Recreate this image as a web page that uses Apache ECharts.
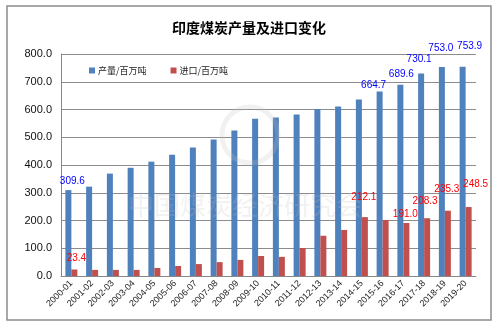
<!DOCTYPE html>
<html><head><meta charset="utf-8">
<script src="https://cdn.jsdelivr.net/npm/echarts@6/dist/echarts.min.js"></script>
<style>html,body{margin:0;padding:0;background:#fff}#c{width:499px;height:328px}</style>
</head><body><div id="c"></div>
<script>
var categories = ['2000-01','2001-02','2002-03','2003-04','2004-05','2005-06','2006-07','2007-08','2008-09','2009-10','2010-11','2011-12','2012-13','2013-14','2014-15','2015-16','2016-17','2017-18','2018-19','2019-20'];
var production = [309.6,322,369,390,412,437,463,492,524,567,571,582,602,611,636,664.7,689.6,730.1,753.0,753.9];
var imports = [23.4,22,22,22,29,36,43,50,58,72,69,101,145,166,212.1,202,191.0,208.3,235.3,248.5];
var yTicks = [0,100,200,300,400,500,600,700,800];
var prodLabelIdx = [0,15,16,17,18,19];
var impLabelIdx = [0,14,16,17,18,19];

// label styling (offsets in px, presentation only)
var prodOffsets = {0:[4,1],15:[-6,4],16:[1,0],17:[-2,-4],18:[-1,-9],19:[7,-11]};
var impOffsets = {0:[2,-1],14:[-1,-10],16:[-1,1],17:[-2,-7],18:[-1,-11],19:[7,-13]};

function build(vals, idx, offs, color){
  return vals.map(function(v,i){
    var item = {value:v};
    if (idx.indexOf(i) >= 0) {
      item.label = {show:true, position:'top', distance:5, offset:offs[i]||[0,0], color:color,
        fontSize:10, fontFamily:'Liberation Sans, Arial, sans-serif',
        formatter:function(p){return p.value.toFixed(1);}};
    }
    return item;
  });
}

var chart = echarts.init(document.getElementById('c'), null, {renderer:'canvas'});
chart.setOption({
  animation:false,
  backgroundColor:'#fff',
  title:{text:'印度煤炭产量及进口变化', left:244, top:16, textAlign:'center',
    textStyle:{fontSize:14, fontWeight:'bold', color:'#000', fontFamily:'Noto Sans CJK SC'}},
  legend:{left:84, top:61, itemWidth:6, itemHeight:6, itemGap:24, icon:'rect',
    textStyle:{fontSize:9, color:'#222', fontFamily:'Noto Sans CJK SC', padding:[0,0,0,-2]},
    data:['产量/百万吨','进口/百万吨']},
  graphic:[
    {type:'rect', shape:{x:7,y:6,width:484,height:314}, style:{fill:'none', stroke:'#8c8c8c', lineWidth:1.5}, z:-1},
    {type:'circle', shape:{cx:250,cy:135,r:28}, style:{fill:'none', stroke:'rgba(190,190,190,0.22)', lineWidth:5}, z:100},
    {type:'text', left:128, top:192, style:{text:'中国煤炭经济研究会', font:'26px "Noto Sans CJK SC"', fill:'rgba(190,190,190,0.22)'}, z:100}
  ],
  grid:{left:61, right:23, top:54, bottom:52},
  xAxis:{type:'category', data:categories,
    axisLine:{lineStyle:{color:'#888', width:1}}, axisTick:{show:false},
    axisLabel:{interval:0, rotate:45, fontSize:9, color:'#222', margin:6, fontFamily:'Liberation Sans, Arial, sans-serif'}},
  yAxis:{type:'value', min:yTicks[0], max:yTicks[yTicks.length-1], interval:yTicks[1]-yTicks[0],
    axisLine:{show:true, lineStyle:{color:'#888'}}, axisTick:{show:false},
    splitLine:{lineStyle:{color:'#8c8c8c', width:1}},
    axisLabel:{fontSize:11, color:'#111', margin:9, fontFamily:'Liberation Sans, Arial, sans-serif',
      formatter:function(v){return v.toFixed(1);}}},
  series:[
    {name:'产量/百万吨', type:'bar', barWidth:6, barGap:'0%', itemStyle:{color:'#4F81BD'},
      data:build(production, prodLabelIdx, prodOffsets, '#0000ff')},
    {name:'进口/百万吨', type:'bar', barWidth:6, barGap:'0%', itemStyle:{color:'#C0504D'},
      data:build(imports, impLabelIdx, impOffsets, '#ff0000')}
  ]
});
</script></body></html>
